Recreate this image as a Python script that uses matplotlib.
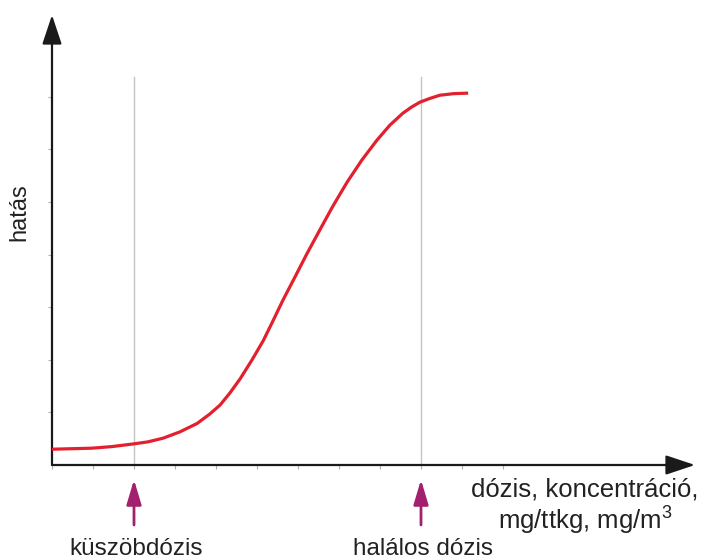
"""
Dózis-hatás görbe (küszöbdózis / halálos dózis) újrarajzolása.
"""

import matplotlib
matplotlib.use("Agg")
import matplotlib.pyplot as plt


# ─────────────────────────────────────────────
# Adatok (tengelyegységekben)
# ─────────────────────────────────────────────

dose = [0.0, 0.49, 0.98, 1.46, 1.98, 2.34, 2.71, 3.12, 3.54, 3.85,
        4.10, 4.34, 4.59, 4.88, 5.15, 5.39, 5.63, 5.93, 6.22, 6.54,
        6.85, 7.20, 7.56, 7.93, 8.24, 8.56, 8.78, 8.98, 9.22, 9.46,
        9.80, 10.15]
effect = [0.30, 0.31, 0.32, 0.35, 0.40, 0.44, 0.51, 0.63, 0.79, 0.97,
          1.14, 1.37, 1.64, 2.00, 2.36, 2.74, 3.13, 3.58, 4.02, 4.48,
          4.92, 5.38, 5.80, 6.18, 6.46, 6.69, 6.81, 6.90, 6.97, 7.03,
          7.06, 7.07]

x_ticks = list(range(0, 12))
y_ticks = list(range(1, 8))

marker_dose = [2, 9]
marker_labels = ["küszöbdózis", "halálos dózis"]

x_label = "dózis, koncentráció,\nmg/ttkg, mg/m$^3$"
y_label = "hatás"


# ─────────────────────────────────────────────
# Rajz
# ─────────────────────────────────────────────

plt.rcParams["font.family"] = ["Liberation Sans", "DejaVu Sans"]
plt.rcParams["mathtext.fontset"] = "custom"
plt.rcParams["mathtext.rm"] = "Liberation Sans"

TEXT = "#222222"
AXIS = "#1a1a1a"
RED = "#e3202e"
PURPLE = "#a3206e"

fig = plt.figure(figsize=(7.05, 5.6), dpi=100)
ax = fig.add_axes([52 / 705, 95 / 560, 643 / 705, 450 / 560])
ax.set_xlim(0, 643 / 41)
ax.set_ylim(0, 450 / 52.6)

for s in ax.spines.values():
    s.set_visible(False)

ax.set_xticks(x_ticks)
ax.set_yticks(y_ticks)
ax.tick_params(axis="both", direction="out", length=3, width=0.8,
               color="#b0b0b0", labelbottom=False, labelleft=False)

# tengelyek nyíllal
arrow = dict(arrowstyle="-|>,head_length=1.5,head_width=0.5",
             mutation_scale=12, lw=1.6, color=AXIS, shrinkA=0, shrinkB=0)
ax.annotate("", xy=(0, 1), xytext=(0, 0), xycoords="axes fraction",
            arrowprops=arrow, annotation_clip=False)
ax.annotate("", xy=(1, 0), xytext=(0, 0), xycoords="axes fraction",
            arrowprops=arrow, annotation_clip=False)

# függőleges segédvonalak
for xm in marker_dose:
    ax.plot([xm, xm], [0, 7.38], color="#c4c4c4", lw=1.0, zorder=1)

# görbe
ax.plot(dose, effect, color=RED, lw=2.3, solid_joinstyle="round",
        solid_capstyle="butt", zorder=3)

# lila nyilak és feliratok
for xm, lab in zip(marker_dose, marker_labels):
    ax.annotate("", xy=(xm, -0.28), xytext=(xm, -1.14),
                arrowprops=dict(arrowstyle="-|>,head_length=1.5,head_width=0.45",
                                mutation_scale=10, lw=2.0, color=PURPLE,
                                shrinkA=0, shrinkB=0),
                annotation_clip=False)
    ax.text(xm + 0.05, -1.72, lab, ha="center", va="baseline",
            fontsize=17.5, color=TEXT, clip_on=False)

ax.text(13.0, -0.24, x_label, ha="center", va="top", multialignment="center",
        fontsize=18.5, color=TEXT, linespacing=1.05, clip_on=False)

fig.text(19 / 705, 1 - 212 / 560, y_label, rotation=90, ha="center",
         va="center", fontsize=17, color=TEXT)

fig.savefig("out.png", dpi=100)
